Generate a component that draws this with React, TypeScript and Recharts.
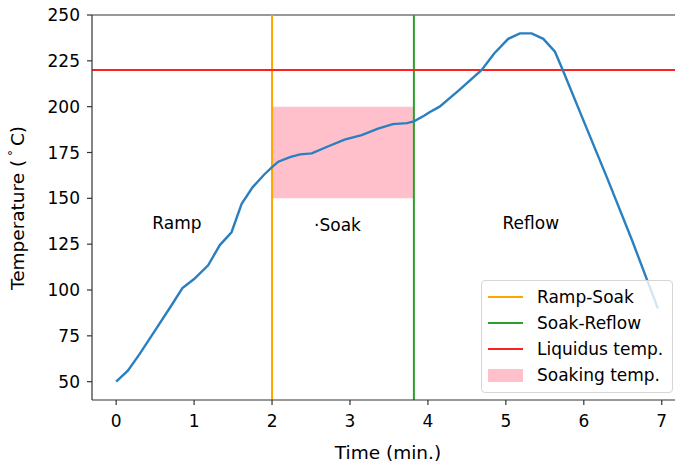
import React from 'react';
import {
  ComposedChart, Line, XAxis, YAxis, ReferenceLine, ReferenceArea, ReferenceDot, Legend,
} from 'recharts';

const time = [0, 0.15, 0.3, 0.5, 0.7, 0.85, 1.0, 1.18, 1.33, 1.48, 1.61, 1.75, 1.9, 2.0, 2.08, 2.23, 2.36, 2.51, 2.7, 2.93, 3.15, 3.36, 3.55, 3.73, 3.82, 3.95, 4.02, 4.15, 4.4, 4.69, 4.85, 5.03, 5.18, 5.33, 5.48, 5.63, 5.73, 6.0, 6.3, 6.62, 6.95];
const temperature = [50, 56, 65, 78, 91, 101, 106, 113.5, 124.5, 131.5, 147, 156, 163, 167, 170, 172.5, 174, 174.5, 178, 182, 184.5, 188, 190.5, 191, 192, 195, 197, 200, 209, 220, 229, 237, 240, 240, 237, 230, 220, 192, 161, 127, 90];

const xTicks = [0, 1, 2, 3, 4, 5, 6, 7];
const yTicks = [50, 75, 100, 125, 150, 175, 200, 225, 250];

const rampSoak = 2.0;
const soakReflow = 3.82;
const liquidus = 220;
const soakLow = 150;
const soakHigh = 200;

const phaseLabels = [
  { x: 0.78, y: 136.5, text: 'Ramp' },
  { x: 2.84, y: 135.5, text: '·Soak' },
  { x: 5.32, y: 136.5, text: 'Reflow' },
];

const legendItems = [
  { label: 'Ramp-Soak', color: '#FFA500', kind: 'line' },
  { label: 'Soak-Reflow', color: '#2ca02c', kind: 'line' },
  { label: 'Liquidus temp.', color: '#FF2020', kind: 'line' },
  { label: 'Soaking temp.', color: '#FFC0CB', kind: 'patch' },
];

const data = time.map((t, i) => ({ t, temp: temperature[i] }));

const FONT = '"DejaVu Sans", sans-serif';
const AX = '#333';

const LegendBox = () => (
  <div
    style={{
      border: '1px solid #d6d6d6',
      borderRadius: 4,
      background: 'rgba(255,255,255,0.8)',
      padding: '3px 0 4px 6px',
      width: 192,
      fontFamily: FONT,
      fontSize: 17,
      color: '#000',
      boxSizing: 'border-box',
    }}
  >
    {legendItems.map((it) => (
      <div key={it.label} style={{ display: 'flex', alignItems: 'center', height: 26 }}>
        {it.kind === 'line' ? (
          <div style={{ width: 35, height: 2, background: it.color, marginRight: 14 }} />
        ) : (
          <div style={{ width: 35, height: 13, background: it.color, marginRight: 14 }} />
        )}
        <span style={{ whiteSpace: 'nowrap' }}>{it.label}</span>
      </div>
    ))}
  </div>
);

export default function App() {
  return (
    <div style={{ position: 'absolute', left: 0, top: 0, width: 675, height: 467, background: '#fff', fontFamily: FONT }}>
      <ComposedChart
        width={675}
        height={467}
        data={data}
        margin={{ top: 15, right: 0, bottom: 37, left: 32 }}
      >
        <XAxis
          dataKey="t"
          type="number"
          domain={[-0.31, 7.17]}
          ticks={xTicks}
          allowDataOverflow
          height={30}
          stroke={AX}
          tickSize={5}
          tickMargin={10}
          tick={{ fill: '#000', fontSize: 17, fontFamily: FONT }}
          axisLine={{ stroke: AX, strokeWidth: 1.2 }}
          tickLine={{ stroke: AX, strokeWidth: 1.2 }}
          label={{
            content: () => (
              <text x={388} y={459} textAnchor="middle" fontSize={18.5} fontFamily={FONT} fill="#000">
                Time (min.)
              </text>
            ),
          }}
        />
        <YAxis
          type="number"
          domain={[40, 250]}
          ticks={yTicks}
          allowDataOverflow
          width={60}
          stroke={AX}
          tickSize={5}
          tickMargin={7}
          tick={{ fill: '#000', fontSize: 17, fontFamily: FONT }}
          axisLine={{ stroke: AX, strokeWidth: 1.2 }}
          tickLine={{ stroke: AX, strokeWidth: 1.2 }}
          label={{
            content: () => (
              <text
                x={0}
                y={0}
                transform="translate(24,208) rotate(-90)"
                textAnchor="middle"
                fontSize={18.5}
                fontFamily={FONT}
                fill="#000"
              >
                <tspan>Temperature (</tspan>
                <tspan dy={-7} fontSize={12}> ° </tspan>
                <tspan dy={7}>C)</tspan>
              </text>
            ),
          }}
        />
        <ReferenceArea
          x1={rampSoak}
          x2={soakReflow}
          y1={soakLow}
          y2={soakHigh}
          fill="#FFC0CB"
          fillOpacity={1}
          stroke="none"
        />
        <ReferenceLine y={250} stroke={AX} strokeWidth={1.2} />
        <ReferenceLine x={rampSoak} stroke="#FFA500" strokeWidth={2} />
        <ReferenceLine x={soakReflow} stroke="#2ca02c" strokeWidth={2} />
        <ReferenceLine y={liquidus} stroke="#FF2020" strokeWidth={2} />
        <Line
          dataKey="temp"
          type="linear"
          stroke="#2a7fbf"
          strokeWidth={2.4}
          dot={false}
          isAnimationActive={false}
        />
        {phaseLabels.map((p) => (
          <ReferenceDot
            key={p.text}
            x={p.x}
            y={p.y}
            r={0}
            fill="none"
            stroke="none"
            label={{ value: p.text, position: 'center', fontSize: 17, fill: '#000', fontFamily: FONT }}
          />
        ))}
        <Legend
          layout="horizontal"
          verticalAlign="middle"
          align="center"
          content={() => <LegendBox />}
          wrapperStyle={{ position: 'absolute', left: 481, top: 280, width: 'auto', height: 'auto' }}
        />
      </ComposedChart>
    </div>
  );
}
